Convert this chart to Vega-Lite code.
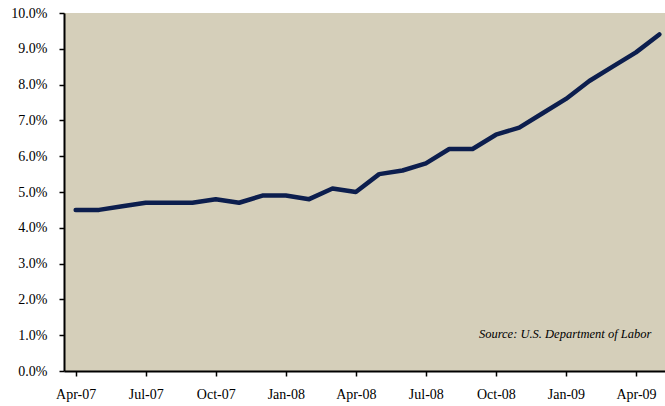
{
  "$schema": "https://vega.github.io/schema/vega-lite/v6.json",
  "autosize": "none",
  "padding": {"left": 64, "top": 13, "right": 0, "bottom": 35},
  "width": 607,
  "height": 358,
  "background": "white",
  "config": {
    "view": {"fill": "#D5CFBA", "stroke": null},
    "font": "Liberation Serif"
  },
  "data": {
    "values": [
      {"month": "Apr-07", "rate": 4.5},
      {"month": "May-07", "rate": 4.5},
      {"month": "Jun-07", "rate": 4.6},
      {"month": "Jul-07", "rate": 4.7},
      {"month": "Aug-07", "rate": 4.7},
      {"month": "Sep-07", "rate": 4.7},
      {"month": "Oct-07", "rate": 4.8},
      {"month": "Nov-07", "rate": 4.7},
      {"month": "Dec-07", "rate": 4.9},
      {"month": "Jan-08", "rate": 4.9},
      {"month": "Feb-08", "rate": 4.8},
      {"month": "Mar-08", "rate": 5.1},
      {"month": "Apr-08", "rate": 5.0},
      {"month": "May-08", "rate": 5.5},
      {"month": "Jun-08", "rate": 5.6},
      {"month": "Jul-08", "rate": 5.8},
      {"month": "Aug-08", "rate": 6.2},
      {"month": "Sep-08", "rate": 6.2},
      {"month": "Oct-08", "rate": 6.6},
      {"month": "Nov-08", "rate": 6.8},
      {"month": "Dec-08", "rate": 7.2},
      {"month": "Jan-09", "rate": 7.6},
      {"month": "Feb-09", "rate": 8.1},
      {"month": "Mar-09", "rate": 8.5},
      {"month": "Apr-09", "rate": 8.9},
      {"month": "May-09", "rate": 9.4}
    ]
  },
  "encoding": {
    "x": {
      "field": "month",
      "type": "ordinal",
      "sort": null,
      "scale": {"paddingInner": 0, "paddingOuter": 0},
      "axis": {
        "title": null,
        "values": ["Apr-07", "Jul-07", "Oct-07", "Jan-08", "Apr-08", "Jul-08", "Oct-08", "Jan-09", "Apr-09"],
        "labelAngle": 0,
        "bandPosition": 0,
        "labelOffset": 0,
        "labelFont": "Liberation Serif",
        "labelFontSize": 14,
        "labelColor": "#000000",
        "labelPadding": 11,
        "domainColor": "#000000",
        "domainWidth": 2,
        "tickColor": "#000000",
        "tickWidth": 1.5,
        "tickSize": 5
      }
    },
    "y": {
      "field": "rate",
      "type": "quantitative",
      "scale": {"domain": [0, 10], "nice": false},
      "axis": {
        "title": null,
        "values": [0, 1, 2, 3, 4, 5, 6, 7, 8, 9, 10],
        "labelExpr": "format(datum.value, '.1f') + '%'",
        "labelFont": "Liberation Serif",
        "labelFontSize": 14,
        "labelColor": "#000000",
        "labelPadding": 12,
        "grid": false,
        "domainColor": "#000000",
        "domainWidth": 2,
        "tickColor": "#000000",
        "tickWidth": 1.5,
        "tickSize": 5
      }
    }
  },
  "layer": [
    {
      "mark": {"type": "line", "color": "#0C1E4E", "strokeWidth": 4.5, "strokeJoin": "round", "strokeCap": "round"}
    },
    {
      "data": {"values": [{"month": "May-09", "rate": 1.03, "note": "Source: U.S. Department of Labor"}]},
      "mark": {"type": "text", "align": "right", "baseline": "middle", "dx": -8, "font": "Liberation Serif", "fontStyle": "italic", "fontSize": 12.5, "color": "#000000"},
      "encoding": {"text": {"field": "note"}}
    }
  ]
}
